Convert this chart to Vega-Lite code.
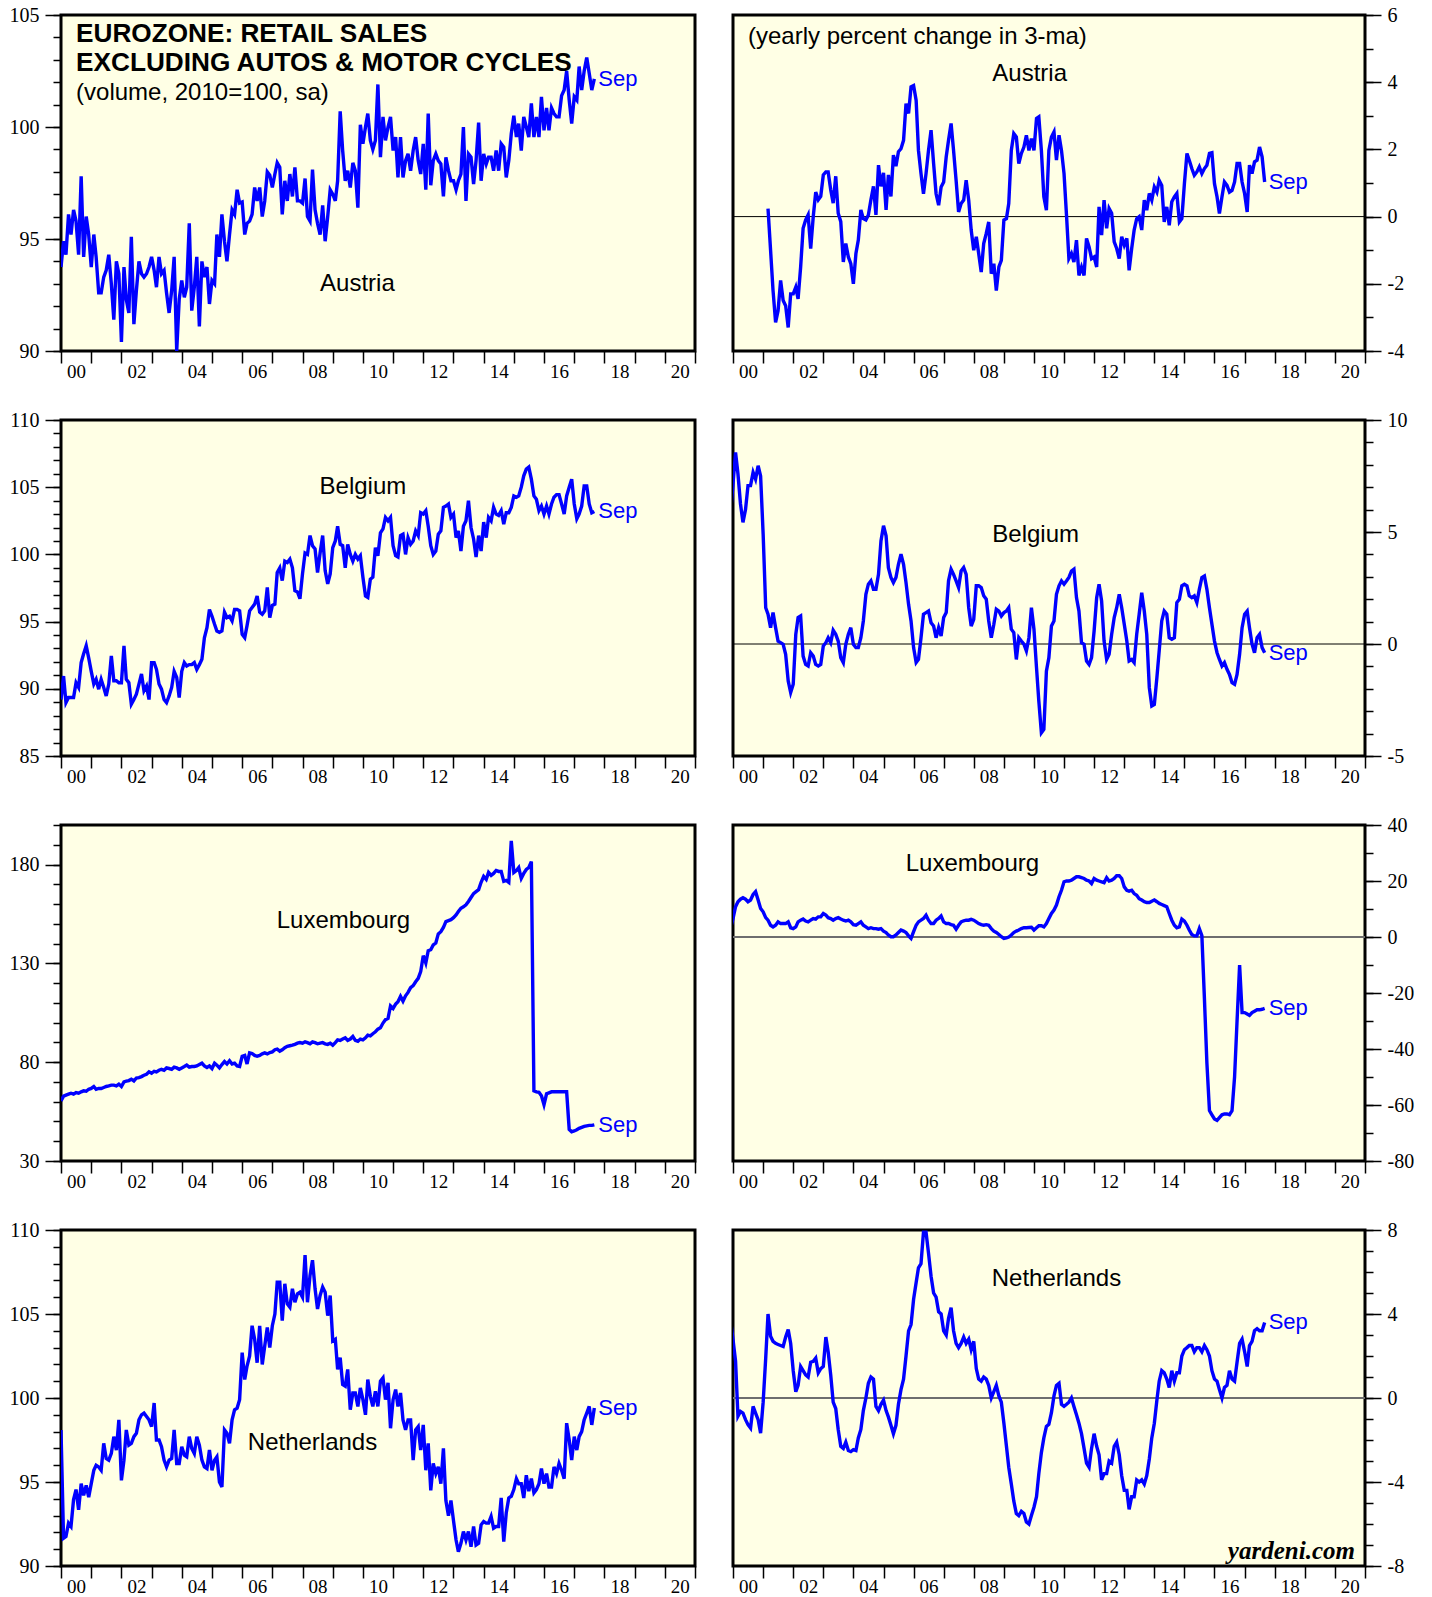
{
"$schema":"https://vega.github.io/schema/vega-lite/v6.json",
"background":"white",
"padding":{"left":7,"top":3,"right":0,"bottom":0},
"data":{"values":[
{"d":"1999-12","br":5.8,"lr":3.0,"nr":3.74},
{"d":"2000-01","a":93.75,"b":89.2,"br":7.14,"l":60.4,"lr":6.6,"n":98.1,"nr":2.79},
{"d":"2000-02","a":94.9,"b":90.95,"br":8.55,"l":62.8,"lr":10.8,"n":91.65,"nr":1.75},
{"d":"2000-03","a":94.3,"b":88.97,"br":7.6,"l":63.3,"lr":12.6,"n":91.75,"nr":-0.87},
{"d":"2000-04","a":96.1,"b":89.35,"br":6.25,"l":63.8,"lr":13.5,"n":92.55,"nr":-0.64},
{"d":"2000-05","a":95.2,"b":89.35,"br":5.43,"l":64.3,"lr":14.0,"n":92.35,"nr":-0.72},
{"d":"2000-06","a":96.3,"b":89.35,"br":6.0,"l":63.8,"lr":13.5,"n":93.95,"nr":-1.03},
{"d":"2000-07","a":95.8,"b":90.45,"br":7.07,"l":64.6,"lr":12.6,"n":94.55,"nr":-1.27},
{"d":"2000-08","a":94.3,"b":90.1,"br":7.07,"l":64.3,"lr":13.2,"n":93.35,"nr":-1.43},
{"d":"2000-09","a":97.8,"b":91.95,"br":7.66,"l":65.0,"lr":15.2,"n":94.9,"nr":-0.4},
{"d":"2000-10","a":94.2,"b":92.6,"br":7.36,"l":65.5,"lr":16.2,"n":94.2,"nr":-0.72},
{"d":"2000-11","a":96.0,"b":93.2,"br":7.96,"l":65.3,"lr":13.2,"n":94.8,"nr":-1.03},
{"d":"2000-12","a":95.2,"b":92.3,"br":7.5,"l":66.3,"lr":10.2,"n":94.1,"nr":-1.67},
{"d":"2001-01","a":93.75,"b":91.3,"br":4.9,"l":66.7,"lr":9.0,"n":94.9,"nr":-0.2},
{"d":"2001-02","a":95.2,"b":90.35,"br":1.62,"l":67.7,"lr":6.9,"n":95.7,"nr":1.9},
{"d":"2001-03","a":94.2,"ar":0.24,"b":90.7,"br":1.33,"l":66.3,"lr":6.0,"n":96.0,"nr":4.0},
{"d":"2001-04","a":92.6,"ar":-1.0,"b":89.97,"br":0.73,"l":66.7,"lr":4.2,"n":95.9,"nr":2.94},
{"d":"2001-05","a":92.6,"ar":-2.2,"b":90.7,"br":1.4,"l":66.7,"lr":3.6,"n":95.7,"nr":2.7},
{"d":"2001-06","a":93.3,"ar":-3.15,"b":90.1,"br":0.73,"l":67.2,"lr":4.2,"n":97.3,"nr":2.6},
{"d":"2001-07","a":93.6,"ar":-2.8,"b":89.47,"br":0.13,"l":67.7,"lr":5.4,"n":96.4,"nr":2.55},
{"d":"2001-08","a":94.3,"ar":-1.9,"b":90.35,"br":0.06,"l":68.0,"lr":4.8,"n":96.3,"nr":2.5},
{"d":"2001-09","a":93.0,"ar":-2.5,"b":92.45,"br":-0.01,"l":68.4,"lr":4.8,"n":96.7,"nr":2.45},
{"d":"2001-10","a":91.4,"ar":-2.65,"b":90.6,"br":-0.46,"l":68.4,"lr":4.8,"n":97.7,"nr":2.9},
{"d":"2001-11","a":94.0,"ar":-3.3,"b":90.6,"br":-1.65,"l":68.0,"lr":5.4,"n":96.9,"nr":3.26},
{"d":"2001-12","a":93.45,"ar":-2.3,"b":90.45,"br":-2.17,"l":68.9,"lr":3.3,"n":98.7,"nr":2.6},
{"d":"2002-01","a":90.4,"ar":-2.3,"b":90.45,"br":-1.8,"l":67.7,"lr":3.0,"n":95.1,"nr":1.3},
{"d":"2002-02","a":93.75,"ar":-2.1,"b":93.2,"br":0.43,"l":70.0,"lr":3.6,"n":96.3,"nr":0.3},
{"d":"2002-03","a":92.3,"ar":-2.45,"b":90.7,"br":1.18,"l":70.4,"lr":5.4,"n":98.1,"nr":0.6},
{"d":"2002-04","a":91.7,"ar":-1.5,"b":90.45,"br":1.25,"l":70.7,"lr":6.0,"n":97.2,"nr":1.5},
{"d":"2002-05","a":95.1,"ar":-0.35,"b":88.85,"br":-0.54,"l":71.4,"lr":6.4,"n":97.3,"nr":1.3},
{"d":"2002-06","a":91.2,"ar":-0.1,"b":89.2,"br":-0.91,"l":70.5,"lr":5.7,"n":97.7,"nr":1.1},
{"d":"2002-07","a":92.7,"ar":0.05,"b":89.6,"br":-0.98,"l":72.0,"lr":5.4,"n":97.9,"nr":1.0},
{"d":"2002-08","a":94.0,"ar":-0.95,"b":90.35,"br":-0.39,"l":72.2,"lr":6.0,"n":98.7,"nr":1.7},
{"d":"2002-09","a":93.45,"ar":0.0,"b":91.1,"br":-0.54,"l":72.7,"lr":6.6,"n":99.0,"nr":1.75},
{"d":"2002-10","a":93.3,"ar":0.73,"b":89.85,"br":-0.91,"l":73.4,"lr":6.4,"n":99.1,"nr":1.9},
{"d":"2002-11","a":93.45,"ar":0.5,"b":90.2,"br":-0.98,"l":73.9,"lr":7.2,"n":98.9,"nr":1.2},
{"d":"2002-12","a":93.75,"ar":0.6,"b":89.2,"br":-0.91,"l":75.1,"lr":7.2,"n":98.7,"nr":1.4},
{"d":"2003-01","a":94.2,"ar":1.24,"b":91.95,"br":-0.09,"l":74.4,"lr":8.4,"n":98.3,"nr":1.5},
{"d":"2003-02","a":93.6,"ar":1.33,"b":91.95,"br":0.06,"l":75.4,"lr":7.8,"n":99.7,"nr":2.9},
{"d":"2003-03","a":92.85,"ar":1.33,"b":91.45,"br":0.28,"l":75.1,"lr":6.9,"n":97.5,"nr":2.2},
{"d":"2003-04","a":94.2,"ar":0.8,"b":90.35,"br":0.06,"l":75.9,"lr":6.6,"n":97.5,"nr":1.1},
{"d":"2003-05","a":93.45,"ar":0.4,"b":89.97,"br":0.61,"l":76.4,"lr":6.0,"n":97.1,"nr":-0.2},
{"d":"2003-06","a":93.6,"ar":1.2,"b":89.2,"br":0.43,"l":75.9,"lr":6.6,"n":96.3,"nr":-0.5},
{"d":"2003-07","a":92.6,"ar":0.1,"b":88.97,"br":0.13,"l":77.1,"lr":6.9,"n":95.9,"nr":-1.5},
{"d":"2003-08","a":91.7,"ar":-0.15,"b":89.47,"br":-0.61,"l":76.8,"lr":6.4,"n":96.3,"nr":-2.3},
{"d":"2003-09","a":92.7,"ar":-1.35,"b":90.1,"br":-0.83,"l":76.4,"lr":6.0,"n":96.4,"nr":-2.4},
{"d":"2003-10","a":94.2,"ar":-0.8,"b":91.3,"br":-0.01,"l":77.5,"lr":5.7,"n":98.1,"nr":-2.1},
{"d":"2003-11","a":90.0,"ar":-1.2,"b":90.85,"br":0.43,"l":77.1,"lr":6.0,"n":96.1,"nr":-2.5},
{"d":"2003-12","a":92.3,"ar":-1.4,"b":89.35,"br":0.73,"l":76.4,"lr":5.4,"n":96.1,"nr":-2.55},
{"d":"2004-01","a":93.15,"ar":-2.0,"b":91.3,"br":-0.01,"l":77.1,"lr":4.4,"n":97.1,"nr":-2.46},
{"d":"2004-02","a":92.4,"ar":-1.1,"b":91.95,"br":-0.16,"l":77.8,"lr":4.2,"n":96.6,"nr":-2.5},
{"d":"2004-03","a":92.85,"ar":-0.7,"b":91.7,"br":-0.16,"l":78.5,"lr":4.8,"n":96.5,"nr":-1.9},
{"d":"2004-04","a":95.7,"ar":0.2,"b":91.8,"br":0.28,"l":77.5,"lr":5.4,"n":97.7,"nr":-1.5},
{"d":"2004-05","a":91.8,"ar":-0.06,"b":91.8,"br":1.03,"l":77.8,"lr":4.2,"n":97.0,"nr":-0.6},
{"d":"2004-06","a":92.85,"ar":-0.1,"b":91.95,"br":2.22,"l":77.8,"lr":3.6,"n":96.7,"nr":0.0},
{"d":"2004-07","a":94.2,"ar":0.05,"b":91.45,"br":2.67,"l":78.1,"lr":3.0,"n":97.7,"nr":0.7},
{"d":"2004-08","a":91.1,"ar":0.5,"b":91.8,"br":2.82,"l":78.8,"lr":3.3,"n":97.2,"nr":1.0},
{"d":"2004-09","a":94.0,"ar":0.9,"b":92.2,"br":2.44,"l":79.5,"lr":3.0,"n":96.3,"nr":0.9},
{"d":"2004-10","a":93.3,"ar":0.05,"b":93.8,"br":2.44,"l":78.1,"lr":3.0,"n":95.9,"nr":-0.4},
{"d":"2004-11","a":93.75,"ar":1.53,"b":94.55,"br":3.11,"l":77.3,"lr":2.8,"n":95.8,"nr":-0.6},
{"d":"2004-12","a":92.1,"ar":0.9,"b":95.9,"br":4.6,"l":78.1,"lr":3.0,"n":96.9,"nr":-0.3},
{"d":"2005-01","a":93.15,"ar":1.3,"b":95.4,"br":5.28,"l":76.8,"lr":2.1,"n":95.7,"nr":-0.1},
{"d":"2005-02","a":93.0,"ar":0.2,"b":94.8,"br":4.83,"l":79.5,"lr":1.6,"n":96.3,"nr":-0.6},
{"d":"2005-03","a":95.2,"ar":1.24,"b":94.3,"br":3.41,"l":78.5,"lr":0.7,"n":96.5,"nr":-0.9},
{"d":"2005-04","a":94.2,"ar":0.6,"b":94.2,"br":2.97,"l":77.1,"lr":0.1,"n":95.0,"nr":-1.3},
{"d":"2005-05","a":96.1,"ar":1.83,"b":94.3,"br":2.74,"l":78.8,"lr":0.1,"n":94.7,"nr":-1.7},
{"d":"2005-06","a":94.9,"ar":1.5,"b":95.7,"br":2.97,"l":80.3,"lr":0.7,"n":98.1,"nr":-1.3},
{"d":"2005-07","a":94.0,"ar":1.93,"b":95.3,"br":3.56,"l":79.1,"lr":1.6,"n":97.9,"nr":-0.3},
{"d":"2005-08","a":95.2,"ar":2.02,"b":95.4,"br":4.01,"l":80.7,"lr":2.5,"n":97.3,"nr":0.4},
{"d":"2005-09","a":96.3,"ar":2.27,"b":95.05,"br":3.56,"l":79.1,"lr":2.1,"n":98.7,"nr":0.9},
{"d":"2005-10","a":96.1,"ar":3.36,"b":95.9,"br":2.74,"l":79.5,"lr":1.6,"n":99.3,"nr":2.0},
{"d":"2005-11","a":97.2,"ar":3.07,"b":95.9,"br":1.77,"l":78.1,"lr":0.4,"n":99.4,"nr":3.2},
{"d":"2005-12","a":96.6,"ar":3.86,"b":95.8,"br":1.03,"l":77.8,"lr":-0.5,"n":99.9,"nr":3.5},
{"d":"2006-01","a":96.65,"ar":3.9,"b":94.05,"br":-0.16,"l":83.0,"lr":1.9,"n":102.7,"nr":4.7},
{"d":"2006-02","a":95.2,"ar":3.46,"b":93.8,"br":-0.83,"l":83.4,"lr":4.2,"n":101.1,"nr":5.5},
{"d":"2006-03","a":95.7,"ar":1.97,"b":94.7,"br":-0.69,"l":79.1,"lr":5.4,"n":101.9,"nr":6.2},
{"d":"2006-04","a":95.8,"ar":1.28,"b":95.8,"br":0.28,"l":84.7,"lr":6.0,"n":102.5,"nr":6.4},
{"d":"2006-05","a":96.1,"ar":0.68,"b":96.05,"br":1.33,"l":84.4,"lr":6.6,"n":104.3,"nr":7.9},
{"d":"2006-06","a":97.3,"ar":1.28,"b":96.3,"br":1.4,"l":83.4,"lr":7.8,"n":103.5,"nr":7.9},
{"d":"2006-07","a":96.7,"ar":1.97,"b":96.9,"br":1.47,"l":83.0,"lr":6.0,"n":102.1,"nr":6.9},
{"d":"2006-08","a":97.3,"ar":2.57,"b":95.7,"br":0.95,"l":83.4,"lr":4.8,"n":104.3,"nr":5.8},
{"d":"2006-09","a":96.0,"ar":1.58,"b":95.55,"br":0.8,"l":84.2,"lr":4.8,"n":102.0,"nr":5.0},
{"d":"2006-10","a":96.7,"ar":0.68,"b":95.8,"br":0.28,"l":84.7,"lr":6.0,"n":103.1,"nr":4.8},
{"d":"2006-11","a":98.0,"ar":0.34,"b":97.55,"br":0.73,"l":84.2,"lr":6.6,"n":104.2,"nr":4.1},
{"d":"2006-12","a":97.85,"ar":0.88,"b":95.3,"br":0.36,"l":84.9,"lr":7.5,"n":103.0,"nr":4.0},
{"d":"2007-01","a":97.3,"ar":1.03,"b":96.2,"br":1.18,"l":85.2,"lr":5.4,"n":104.3,"nr":3.2},
{"d":"2007-02","a":97.9,"ar":1.78,"b":96.3,"br":1.4,"l":86.3,"lr":4.8,"n":105.0,"nr":3.0},
{"d":"2007-03","a":98.4,"ar":2.27,"b":98.65,"br":2.82,"l":86.6,"lr":4.8,"n":106.9,"nr":3.8},
{"d":"2007-04","a":98.2,"ar":2.77,"b":99.0,"br":3.34,"l":85.6,"lr":4.4,"n":106.9,"nr":4.3},
{"d":"2007-05","a":96.1,"ar":1.97,"b":98.05,"br":3.11,"l":86.3,"lr":4.2,"n":104.6,"nr":3.2},
{"d":"2007-06","a":97.6,"ar":1.08,"b":99.5,"br":2.82,"l":87.3,"lr":2.8,"n":106.8,"nr":2.6},
{"d":"2007-07","a":96.7,"ar":0.14,"b":99.4,"br":2.52,"l":88.0,"lr":4.2,"n":105.6,"nr":2.4},
{"d":"2007-08","a":97.9,"ar":0.39,"b":99.65,"br":3.26,"l":88.3,"lr":5.4,"n":105.4,"nr":2.6},
{"d":"2007-09","a":96.9,"ar":0.49,"b":99.0,"br":3.41,"l":88.6,"lr":5.8,"n":106.5,"nr":2.9},
{"d":"2007-10","a":98.2,"ar":1.08,"b":97.3,"br":3.11,"l":89.0,"lr":6.0,"n":105.7,"nr":2.6},
{"d":"2007-11","a":96.7,"ar":0.49,"b":97.2,"br":1.62,"l":89.6,"lr":6.0,"n":106.2,"nr":2.8},
{"d":"2007-12","a":96.7,"ar":-0.4,"b":96.7,"br":0.8,"l":89.9,"lr":6.3,"n":106.3,"nr":2.3},
{"d":"2008-01","a":96.6,"ar":-1.0,"b":98.55,"br":1.1,"l":89.6,"lr":6.0,"n":106.0,"nr":2.7},
{"d":"2008-02","a":97.7,"ar":-0.6,"b":100.1,"br":2.6,"l":90.3,"lr":5.4,"n":108.5,"nr":1.4},
{"d":"2008-03","a":96.0,"ar":-1.1,"b":100.0,"br":2.6,"l":89.9,"lr":4.8,"n":105.7,"nr":0.9},
{"d":"2008-04","a":95.8,"ar":-1.65,"b":101.4,"br":2.52,"l":89.3,"lr":4.4,"n":107.3,"nr":0.8},
{"d":"2008-05","a":98.1,"ar":-0.8,"b":100.65,"br":2.15,"l":90.3,"lr":4.2,"n":108.2,"nr":1.0},
{"d":"2008-06","a":96.3,"ar":-0.5,"b":100.4,"br":2.0,"l":89.9,"lr":4.4,"n":106.5,"nr":0.9},
{"d":"2008-07","a":95.7,"ar":-0.16,"b":98.65,"br":1.03,"l":89.3,"lr":4.2,"n":105.3,"nr":0.6},
{"d":"2008-08","a":95.2,"ar":-1.7,"b":100.1,"br":0.28,"l":89.6,"lr":3.0,"n":106.1,"nr":0.0},
{"d":"2008-09","a":96.5,"ar":-1.4,"b":101.4,"br":0.88,"l":89.9,"lr":2.1,"n":106.6,"nr":0.3},
{"d":"2008-10","a":94.9,"ar":-2.2,"b":98.8,"br":1.55,"l":89.3,"lr":1.6,"n":106.3,"nr":0.6},
{"d":"2008-11","a":96.0,"ar":-1.5,"b":97.8,"br":1.47,"l":89.0,"lr":0.9,"n":104.9,"nr":0.1},
{"d":"2008-12","a":97.2,"ar":-1.3,"b":98.55,"br":1.25,"l":89.6,"lr":0.1,"n":106.1,"nr":-0.2},
{"d":"2009-01","a":97.0,"ar":-0.1,"b":100.5,"br":1.4,"l":88.6,"lr":-0.5,"n":103.4,"nr":-1.2},
{"d":"2009-02","a":96.7,"ar":-0.06,"b":101.0,"br":1.47,"l":89.9,"lr":-0.3,"n":103.5,"nr":-2.3},
{"d":"2009-03","a":97.6,"ar":0.39,"b":102.1,"br":1.62,"l":91.3,"lr":0.0,"n":101.7,"nr":-3.3},
{"d":"2009-04","a":100.7,"ar":1.97,"b":100.75,"br":0.66,"l":91.0,"lr":0.7,"n":102.4,"nr":-4.1},
{"d":"2009-05","a":98.95,"ar":2.47,"b":100.65,"br":0.51,"l":91.7,"lr":1.6,"n":100.8,"nr":-4.9},
{"d":"2009-06","a":97.6,"ar":2.37,"b":99.0,"br":-0.69,"l":92.3,"lr":2.1,"n":100.7,"nr":-5.5},
{"d":"2009-07","a":98.05,"ar":1.58,"b":100.75,"br":0.28,"l":91.0,"lr":2.5,"n":101.7,"nr":-5.6},
{"d":"2009-08","a":97.3,"ar":1.88,"b":100.0,"br":0.13,"l":91.7,"lr":3.0,"n":99.3,"nr":-5.4},
{"d":"2009-09","a":98.4,"ar":2.07,"b":99.5,"br":-0.01,"l":93.0,"lr":3.3,"n":100.3,"nr":-5.5},
{"d":"2009-10","a":98.05,"ar":2.42,"b":100.0,"br":-0.31,"l":91.0,"lr":3.3,"n":100.3,"nr":-5.9},
{"d":"2009-11","a":96.4,"ar":1.97,"b":99.65,"br":0.28,"l":90.6,"lr":3.4,"n":99.5,"nr":-6.0},
{"d":"2009-12","a":100.1,"ar":2.32,"b":99.9,"br":1.62,"l":91.7,"lr":3.5,"n":100.6,"nr":-5.6},
{"d":"2010-01","a":99.25,"ar":1.97,"b":98.3,"br":0.66,"l":91.3,"lr":2.5,"n":99.9,"nr":-5.2},
{"d":"2010-02","a":100.0,"ar":2.92,"b":96.9,"br":-1.06,"l":92.3,"lr":3.3,"n":99.0,"nr":-4.7},
{"d":"2010-03","a":100.6,"ar":2.97,"b":96.8,"br":-2.55,"l":93.7,"lr":4.0,"n":101.1,"nr":-3.6},
{"d":"2010-04","a":99.4,"ar":1.97,"b":98.15,"br":-3.96,"l":93.3,"lr":4.0,"n":100.1,"nr":-2.6},
{"d":"2010-05","a":99.0,"ar":0.59,"b":98.3,"br":-3.81,"l":94.4,"lr":3.6,"n":99.5,"nr":-1.9},
{"d":"2010-06","a":99.4,"ar":0.19,"b":100.5,"br":-1.21,"l":95.4,"lr":4.8,"n":100.4,"nr":-1.35},
{"d":"2010-07","a":101.9,"ar":1.97,"b":99.9,"br":-0.61,"l":96.7,"lr":6.6,"n":99.5,"nr":-1.25},
{"d":"2010-08","a":98.65,"ar":2.37,"b":101.6,"br":0.8,"l":97.4,"lr":8.4,"n":101.0,"nr":-0.7},
{"d":"2010-09","a":100.45,"ar":2.52,"b":101.9,"br":1.03,"l":99.8,"lr":9.6,"n":101.2,"nr":0.1},
{"d":"2010-10","a":99.4,"ar":1.68,"b":102.75,"br":2.22,"l":101.5,"lr":11.4,"n":99.9,"nr":0.6},
{"d":"2010-11","a":100.0,"ar":2.42,"b":102.5,"br":2.6,"l":102.2,"lr":14.4,"n":100.9,"nr":0.7},
{"d":"2010-12","a":100.45,"ar":1.97,"b":102.75,"br":2.82,"l":108.5,"lr":16.7,"n":98.2,"nr":-0.3},
{"d":"2011-01","a":98.95,"ar":1.28,"b":100.65,"br":2.67,"l":107.2,"lr":19.7,"n":99.9,"nr":-0.4},
{"d":"2011-02","a":99.55,"ar":0.0,"b":99.9,"br":2.82,"l":109.4,"lr":20.0,"n":100.5,"nr":-0.3},
{"d":"2011-03","a":97.75,"ar":-1.25,"b":99.8,"br":2.97,"l":110.6,"lr":20.0,"n":99.5,"nr":-0.2},
{"d":"2011-04","a":99.55,"ar":-1.1,"b":101.4,"br":3.26,"l":113.3,"lr":20.3,"n":100.3,"nr":0.0},
{"d":"2011-05","a":97.75,"ar":-1.35,"b":101.5,"br":3.34,"l":110.9,"lr":20.9,"n":98.7,"nr":-0.4},
{"d":"2011-06","a":98.5,"ar":-0.7,"b":100.0,"br":2.07,"l":113.6,"lr":21.5,"n":98.1,"nr":-0.8},
{"d":"2011-07","a":98.8,"ar":-1.75,"b":101.25,"br":1.47,"l":115.3,"lr":21.5,"n":98.7,"nr":-1.2},
{"d":"2011-08","a":98.05,"ar":-1.5,"b":100.75,"br":0.06,"l":117.7,"lr":21.2,"n":98.7,"nr":-1.7},
{"d":"2011-09","a":98.95,"ar":-1.75,"b":101.0,"br":-0.01,"l":118.7,"lr":20.9,"n":96.3,"nr":-2.4},
{"d":"2011-10","a":99.55,"ar":-0.65,"b":101.75,"br":-0.76,"l":120.7,"lr":20.3,"n":98.1,"nr":-3.1},
{"d":"2011-11","a":98.5,"ar":-0.9,"b":101.4,"br":-0.91,"l":122.4,"lr":20.0,"n":98.3,"nr":-3.3},
{"d":"2011-12","a":97.9,"ar":-1.25,"b":103.1,"br":-0.61,"l":125.8,"lr":19.1,"n":96.9,"nr":-2.4},
{"d":"2012-01","a":99.25,"ar":-1.2,"b":103.0,"br":0.58,"l":133.9,"lr":20.9,"n":98.4,"nr":-1.7},
{"d":"2012-02","a":97.2,"ar":-1.5,"b":103.25,"br":2.07,"l":130.2,"lr":20.3,"n":95.7,"nr":-2.3},
{"d":"2012-03","a":100.6,"ar":0.29,"b":102.1,"br":2.67,"l":136.4,"lr":20.0,"n":97.3,"nr":-2.7},
{"d":"2012-04","a":97.4,"ar":-0.55,"b":100.65,"br":1.92,"l":136.9,"lr":19.7,"n":94.5,"nr":-3.9},
{"d":"2012-05","a":98.5,"ar":0.49,"b":100.0,"br":0.13,"l":139.3,"lr":19.4,"n":96.1,"nr":-3.6},
{"d":"2012-06","a":98.8,"ar":-0.35,"b":100.25,"br":-0.69,"l":140.3,"lr":21.2,"n":95.5,"nr":-3.6},
{"d":"2012-07","a":98.5,"ar":0.24,"b":101.5,"br":-0.46,"l":144.9,"lr":20.0,"n":95.9,"nr":-3.0},
{"d":"2012-08","a":98.35,"ar":0.1,"b":101.75,"br":0.43,"l":146.0,"lr":20.3,"n":94.9,"nr":-3.1},
{"d":"2012-09","a":96.9,"ar":-0.75,"b":103.5,"br":1.18,"l":148.2,"lr":20.9,"n":97.0,"nr":-2.3},
{"d":"2012-10","a":98.65,"ar":-0.95,"b":103.6,"br":1.62,"l":151.1,"lr":21.9,"n":93.9,"nr":-2.1},
{"d":"2012-11","a":98.05,"ar":-1.25,"b":103.75,"br":2.22,"l":151.6,"lr":21.9,"n":93.0,"nr":-2.7},
{"d":"2012-12","a":97.6,"ar":-0.6,"b":102.75,"br":1.62,"l":152.1,"lr":20.9,"n":93.9,"nr":-3.7},
{"d":"2013-01","a":97.6,"ar":-0.85,"b":103.0,"br":0.88,"l":153.1,"lr":17.9,"n":92.7,"nr":-4.4},
{"d":"2013-02","a":97.2,"ar":-0.65,"b":101.25,"br":0.13,"l":154.5,"lr":16.7,"n":91.55,"nr":-4.4},
{"d":"2013-03","a":97.6,"ar":-1.6,"b":101.75,"br":-0.76,"l":156.2,"lr":16.4,"n":90.85,"nr":-5.3},
{"d":"2013-04","a":97.9,"ar":-0.95,"b":100.25,"br":-0.69,"l":157.9,"lr":16.7,"n":91.35,"nr":-4.7},
{"d":"2013-05","a":100.0,"ar":-0.4,"b":102.1,"br":-0.83,"l":158.6,"lr":15.5,"n":92.05,"nr":-4.7},
{"d":"2013-06","a":96.7,"ar":-0.06,"b":102.5,"br":0.43,"l":159.6,"lr":14.9,"n":91.55,"nr":-3.9},
{"d":"2013-07","a":98.8,"ar":0.0,"b":104.0,"br":1.33,"l":161.3,"lr":13.7,"n":92.05,"nr":-4.0},
{"d":"2013-08","a":98.65,"ar":-0.4,"b":102.0,"br":2.29,"l":163.3,"lr":13.2,"n":91.15,"nr":-3.9},
{"d":"2013-09","a":97.45,"ar":0.49,"b":101.15,"br":1.47,"l":165.3,"lr":12.6,"n":92.35,"nr":-4.1},
{"d":"2013-10","a":98.5,"ar":0.19,"b":99.8,"br":0.43,"l":166.3,"lr":12.3,"n":91.25,"nr":-3.7},
{"d":"2013-11","a":100.2,"ar":0.69,"b":101.4,"br":-1.95,"l":167.3,"lr":12.3,"n":91.35,"nr":-2.9},
{"d":"2013-12","a":97.6,"ar":0.49,"b":100.25,"br":-2.77,"l":171.0,"lr":12.8,"n":92.45,"nr":-1.9},
{"d":"2014-01","a":98.8,"ar":0.88,"b":102.4,"br":-2.7,"l":174.0,"lr":13.2,"n":92.65,"nr":-1.2},
{"d":"2014-02","a":98.35,"ar":0.73,"b":101.25,"br":-1.5,"l":172.5,"lr":12.6,"n":92.55,"nr":-0.1},
{"d":"2014-03","a":98.65,"ar":1.08,"b":102.75,"br":-0.31,"l":176.0,"lr":12.0,"n":92.55,"nr":0.8},
{"d":"2014-04","a":98.65,"ar":0.93,"b":102.5,"br":1.03,"l":174.5,"lr":11.6,"n":92.95,"nr":1.3},
{"d":"2014-05","a":98.05,"ar":-0.16,"b":103.5,"br":1.47,"l":175.5,"lr":11.2,"n":92.25,"nr":1.2},
{"d":"2014-06","a":98.95,"ar":0.29,"b":103.0,"br":1.33,"l":177.0,"lr":10.8,"n":92.35,"nr":0.9},
{"d":"2014-07","a":98.05,"ar":-0.26,"b":102.9,"br":0.28,"l":176.5,"lr":8.4,"n":92.35,"nr":0.5},
{"d":"2014-08","a":99.25,"ar":0.44,"b":103.25,"br":0.21,"l":176.5,"lr":6.0,"n":94.05,"nr":1.3},
{"d":"2014-09","a":99.1,"ar":0.59,"b":102.25,"br":0.28,"l":171.5,"lr":4.2,"n":91.45,"nr":0.8},
{"d":"2014-10","a":97.75,"ar":0.69,"b":103.1,"br":1.85,"l":172.0,"lr":3.3,"n":93.15,"nr":1.2},
{"d":"2014-11","a":98.5,"ar":-0.16,"b":103.1,"br":2.0,"l":171.0,"lr":3.6,"n":94.05,"nr":1.2},
{"d":"2014-12","a":99.7,"ar":-0.06,"b":103.5,"br":2.6,"l":192.0,"lr":6.4,"n":94.15,"nr":2.0},
{"d":"2015-01","a":100.5,"ar":0.98,"b":104.35,"br":2.67,"l":176.0,"lr":5.7,"n":94.55,"nr":2.3},
{"d":"2015-02","a":99.55,"ar":1.88,"b":104.25,"br":2.6,"l":177.0,"lr":4.2,"n":95.2,"nr":2.4},
{"d":"2015-03","a":100.15,"ar":1.68,"b":104.35,"br":2.15,"l":178.5,"lr":2.5,"n":94.9,"nr":2.5},
{"d":"2015-04","a":98.95,"ar":1.43,"b":105.0,"br":2.07,"l":173.0,"lr":0.9,"n":94.9,"nr":2.5},
{"d":"2015-05","a":100.45,"ar":1.23,"b":105.85,"br":2.15,"l":175.5,"lr":0.4,"n":94.05,"nr":2.2},
{"d":"2015-06","a":100.0,"ar":1.33,"b":106.35,"br":1.85,"l":177.5,"lr":0.4,"n":95.4,"nr":2.4},
{"d":"2015-07","a":99.55,"ar":1.48,"b":106.5,"br":2.44,"l":178.5,"lr":3.0,"n":94.45,"nr":2.4},
{"d":"2015-08","a":101.05,"ar":1.28,"b":105.6,"br":2.97,"l":181.5,"lr":0.5,"n":95.2,"nr":2.2},
{"d":"2015-09","a":99.55,"ar":1.43,"b":104.35,"br":3.04,"l":65.5,"lr":-22,"n":94.35,"nr":2.5},
{"d":"2015-10","a":100.45,"ar":1.53,"b":104.1,"br":2.44,"l":65.0,"lr":-45,"n":94.55,"nr":2.3},
{"d":"2015-11","a":99.55,"ar":1.88,"b":103.25,"br":1.62,"l":64.8,"lr":-62,"n":94.9,"nr":2.0},
{"d":"2015-12","a":101.35,"ar":1.9,"b":103.6,"br":0.88,"l":63.0,"lr":-63.5,"n":95.8,"nr":1.3},
{"d":"2016-01","a":99.85,"ar":0.98,"b":103.0,"br":0.13,"l":58.5,"lr":-65,"n":94.9,"nr":0.9},
{"d":"2016-02","a":100.85,"ar":0.59,"b":103.6,"br":-0.39,"l":64.0,"lr":-65.5,"n":95.5,"nr":0.8},
{"d":"2016-03","a":99.85,"ar":0.09,"b":103.0,"br":-0.69,"l":64.5,"lr":-64.5,"n":94.7,"nr":0.4},
{"d":"2016-04","a":100.85,"ar":0.59,"b":103.75,"br":-0.98,"l":65.0,"lr":-63.5,"n":94.7,"nr":0.0},
{"d":"2016-05","a":100.6,"ar":1.03,"b":104.25,"br":-0.83,"l":65.0,"lr":-63.2,"n":95.9,"nr":0.5},
{"d":"2016-06","a":100.45,"ar":0.93,"b":104.45,"br":-1.13,"l":65.0,"lr":-63.2,"n":95.5,"nr":0.6},
{"d":"2016-07","a":100.45,"ar":0.73,"b":104.45,"br":-1.36,"l":65.0,"lr":-63.5,"n":96.1,"nr":1.3},
{"d":"2016-08","a":101.4,"ar":0.78,"b":103.75,"br":-1.73,"l":65.0,"lr":-62,"n":95.7,"nr":0.9},
{"d":"2016-09","a":101.65,"ar":1.03,"b":103.0,"br":-1.8,"l":65.0,"lr":-50,"n":95.2,"nr":0.8},
{"d":"2016-10","a":102.5,"ar":1.58,"b":104.35,"br":-1.36,"l":65.0,"lr":-30,"n":98.5,"nr":1.7},
{"d":"2016-11","a":101.2,"ar":1.58,"b":105.0,"br":-0.46,"l":46.0,"lr":-10,"n":97.5,"nr":2.6},
{"d":"2016-12","a":100.15,"ar":1.03,"b":105.6,"br":0.73,"l":44.8,"lr":-27,"n":96.3,"nr":2.8},
{"d":"2017-01","a":101.35,"ar":0.68,"b":103.75,"br":1.33,"l":45.2,"lr":-27,"n":97.7,"nr":2.2},
{"d":"2017-02","a":101.2,"ar":0.14,"b":102.65,"br":1.47,"l":45.8,"lr":-27.5,"n":96.9,"nr":1.5},
{"d":"2017-03","a":102.7,"ar":1.53,"b":103.0,"br":0.73,"l":46.5,"lr":-28,"n":97.7,"nr":2.5},
{"d":"2017-04","a":101.65,"ar":1.28,"b":103.6,"br":-0.01,"l":47.0,"lr":-27,"n":98.0,"nr":2.7},
{"d":"2017-05","a":102.5,"ar":1.63,"b":105.1,"br":-0.39,"l":47.5,"lr":-26.5,"n":98.7,"nr":3.2},
{"d":"2017-06","a":103.1,"ar":1.68,"b":105.1,"br":0.28,"l":47.8,"lr":-26,"n":99.1,"nr":3.3},
{"d":"2017-07","a":102.4,"ar":2.07,"b":103.75,"br":0.43,"l":48.0,"lr":-26,"n":99.5,"nr":3.2},
{"d":"2017-08","a":101.65,"ar":1.78,"b":103.1,"br":-0.16,"l":48.0,"lr":-25.8,"n":98.4,"nr":3.2},
{"d":"2017-09","a":102.15,"ar":1.03,"b":103.2,"br":-0.39,"l":48.3,"lr":-25.5,"n":99.4,"nr":3.6}
]},
"columns":2,
"spacing":{"row":69,"column":38},
"bounds":"flush",
"concat":[
{"width":634,"height":336,"resolve":{"axis":{"y":"independent"}},
"layer":[
{"mark":{"type":"line","color":"#0000ff","strokeWidth":3.4,"clip":true},
"encoding":{
"x":{"field":"d","type":"temporal","title":null,"scale":{"type":"utc","domain":[{"year":2000,"month":1,"date":1,"utc":true},{"year":2021,"month":1,"date":1,"utc":true}]},"axis":{"tickCount":{"interval":"year","step":1},"labelOverlap":false,"labelExpr":"utcyear(datum.value) % 2 == 0 ? utcFormat(datum.value, '%y') : ''"}},
"y":{"field":"a","type":"quantitative","title":null,"scale":{"domain":[90,105],"nice":false,"zero":false},"axis":{"orient":"left","labelOverlap":false,"values":[90,95,100,105],"labelExpr":"'' + datum.value","tickSize":16}}}},
{"transform":[{"filter":"utcyear(datum.d) == 2017 && utcmonth(datum.d) == 8"}],"mark":{"type":"text","align":"left","baseline":"middle","dx":4,"fontSize":22,"color":"#0000ff"},"encoding":{"x":{"field":"d","type":"temporal"},"y":{"field":"a","type":"quantitative","title":null,"axis":{"orient":"left","values":[90,91,92,93,94,95,96,97,98,99,100,101,102,103,104,105],"labels":false,"tickSize":8}},"text":{"value":"Sep"}}},
{"data":{"values":[{"t":"Austria"}]},"mark":{"type":"text","fontSize":24,"baseline":"middle"},"encoding":{"x":{"datum":{"year":2009,"month":10,"date":26,"utc":true},"type":"temporal"},"y":{"datum":93.0,"axis":null},"text":{"field":"t"}}},
{"data":{"values":[{"t":"EUROZONE: RETAIL SALES"}]},"mark":{"type":"text","fontSize":26.2,"fontWeight":"bold","align":"left","baseline":"middle"},"encoding":{"x":{"datum":{"year":2000,"month":7,"date":1,"utc":true},"type":"temporal"},"y":{"datum":104.15,"axis":null},"text":{"field":"t"}}},
{"data":{"values":[{"t":"EXCLUDING AUTOS & MOTOR CYCLES"}]},"mark":{"type":"text","fontSize":26.2,"fontWeight":"bold","align":"left","baseline":"middle"},"encoding":{"x":{"datum":{"year":2000,"month":7,"date":1,"utc":true},"type":"temporal"},"y":{"datum":102.87,"axis":null},"text":{"field":"t"}}},
{"data":{"values":[{"t":"(volume, 2010=100, sa)"}]},"mark":{"type":"text","fontSize":24,"align":"left","baseline":"middle"},"encoding":{"x":{"datum":{"year":2000,"month":7,"date":1,"utc":true},"type":"temporal"},"y":{"datum":101.5,"axis":null},"text":{"field":"t"}}}
]},
{"width":632,"height":336,"resolve":{"axis":{"y":"independent"}},
"layer":[
{"data":{"values":[{}]},"mark":{"type":"rule","color":"#000000","strokeWidth":1},"encoding":{"y":{"datum":0,"axis":null}}},
{"mark":{"type":"line","color":"#0000ff","strokeWidth":3.4,"clip":true},
"encoding":{
"x":{"field":"d","type":"temporal","title":null,"scale":{"type":"utc","domain":[{"year":2000,"month":1,"date":1,"utc":true},{"year":2021,"month":1,"date":1,"utc":true}]},"axis":{"tickCount":{"interval":"year","step":1},"labelOverlap":false,"labelExpr":"utcyear(datum.value) % 2 == 0 ? utcFormat(datum.value, '%y') : ''"}},
"y":{"field":"ar","type":"quantitative","title":null,"scale":{"domain":[-4,6],"nice":false,"zero":false},"axis":{"orient":"right","labelOverlap":false,"values":[-4,-2,0,2,4,6],"labelExpr":"'' + datum.value","tickSize":16}}}},
{"transform":[{"filter":"utcyear(datum.d) == 2017 && utcmonth(datum.d) == 8"}],"mark":{"type":"text","align":"left","baseline":"middle","dx":4,"fontSize":22,"color":"#0000ff"},"encoding":{"x":{"field":"d","type":"temporal"},"y":{"field":"ar","type":"quantitative","title":null,"axis":{"orient":"right","values":[-4,-3,-2,-1,0,1,2,3,4,5,6],"labels":false,"tickSize":8}},"text":{"value":"Sep"}}},
{"data":{"values":[{"t":"Austria"}]},"mark":{"type":"text","fontSize":24,"baseline":"middle"},"encoding":{"x":{"datum":{"year":2009,"month":11,"date":10,"utc":true},"type":"temporal"},"y":{"datum":4.24,"axis":null},"text":{"field":"t"}}},
{"data":{"values":[{"t":"(yearly percent change in 3-ma)"}]},"mark":{"type":"text","fontSize":24,"align":"left","baseline":"middle"},"encoding":{"x":{"datum":{"year":2000,"month":7,"date":1,"utc":true},"type":"temporal"},"y":{"datum":5.36,"axis":null},"text":{"field":"t"}}}
]},
{"width":634,"height":336,"resolve":{"axis":{"y":"independent"}},
"layer":[
{"mark":{"type":"line","color":"#0000ff","strokeWidth":3.4,"clip":true},
"encoding":{
"x":{"field":"d","type":"temporal","title":null,"scale":{"type":"utc","domain":[{"year":2000,"month":1,"date":1,"utc":true},{"year":2021,"month":1,"date":1,"utc":true}]},"axis":{"tickCount":{"interval":"year","step":1},"labelOverlap":false,"labelExpr":"utcyear(datum.value) % 2 == 0 ? utcFormat(datum.value, '%y') : ''"}},
"y":{"field":"b","type":"quantitative","title":null,"scale":{"domain":[85,110],"nice":false,"zero":false},"axis":{"orient":"left","labelOverlap":false,"values":[85,90,95,100,105,110],"labelExpr":"'' + datum.value","tickSize":16}}}},
{"transform":[{"filter":"utcyear(datum.d) == 2017 && utcmonth(datum.d) == 8"}],"mark":{"type":"text","align":"left","baseline":"middle","dx":4,"fontSize":22,"color":"#0000ff"},"encoding":{"x":{"field":"d","type":"temporal"},"y":{"field":"b","type":"quantitative","title":null,"axis":{"orient":"left","values":[85,86,87,88,89,90,91,92,93,94,95,96,97,98,99,100,101,102,103,104,105,106,107,108,109,110],"labels":false,"tickSize":8}},"text":{"value":"Sep"}}},
{"data":{"values":[{"t":"Belgium"}]},"mark":{"type":"text","fontSize":24,"baseline":"middle"},"encoding":{"x":{"datum":{"year":2010,"month":1,"date":1,"utc":true},"type":"temporal"},"y":{"datum":105.0,"axis":null},"text":{"field":"t"}}}
]},
{"width":632,"height":336,"resolve":{"axis":{"y":"independent"}},
"layer":[
{"data":{"values":[{}]},"mark":{"type":"rule","color":"#000000","strokeWidth":1},"encoding":{"y":{"datum":0,"axis":null}}},
{"mark":{"type":"line","color":"#0000ff","strokeWidth":3.4,"clip":true},
"encoding":{
"x":{"field":"d","type":"temporal","title":null,"scale":{"type":"utc","domain":[{"year":2000,"month":1,"date":1,"utc":true},{"year":2021,"month":1,"date":1,"utc":true}]},"axis":{"tickCount":{"interval":"year","step":1},"labelOverlap":false,"labelExpr":"utcyear(datum.value) % 2 == 0 ? utcFormat(datum.value, '%y') : ''"}},
"y":{"field":"br","type":"quantitative","title":null,"scale":{"domain":[-5,10],"nice":false,"zero":false},"axis":{"orient":"right","labelOverlap":false,"values":[-5,0,5,10],"labelExpr":"'' + datum.value","tickSize":16}}}},
{"transform":[{"filter":"utcyear(datum.d) == 2017 && utcmonth(datum.d) == 8"}],"mark":{"type":"text","align":"left","baseline":"middle","dx":4,"fontSize":22,"color":"#0000ff"},"encoding":{"x":{"field":"d","type":"temporal"},"y":{"field":"br","type":"quantitative","title":null,"axis":{"orient":"right","values":[-5,-4,-3,-2,-1,0,1,2,3,4,5,6,7,8,9,10],"labels":false,"tickSize":8}},"text":{"value":"Sep"}}},
{"data":{"values":[{"t":"Belgium"}]},"mark":{"type":"text","fontSize":24,"baseline":"middle"},"encoding":{"x":{"datum":{"year":2010,"month":1,"date":22,"utc":true},"type":"temporal"},"y":{"datum":4.88,"axis":null},"text":{"field":"t"}}}
]},
{"width":634,"height":336,"resolve":{"axis":{"y":"independent"}},
"layer":[
{"mark":{"type":"line","color":"#0000ff","strokeWidth":3.4,"clip":true},
"encoding":{
"x":{"field":"d","type":"temporal","title":null,"scale":{"type":"utc","domain":[{"year":2000,"month":1,"date":1,"utc":true},{"year":2021,"month":1,"date":1,"utc":true}]},"axis":{"tickCount":{"interval":"year","step":1},"labelOverlap":false,"labelExpr":"utcyear(datum.value) % 2 == 0 ? utcFormat(datum.value, '%y') : ''"}},
"y":{"field":"l","type":"quantitative","title":null,"scale":{"domain":[30,200],"nice":false,"zero":false},"axis":{"orient":"left","labelOverlap":false,"values":[30,80,130,180],"labelExpr":"'' + datum.value","tickSize":16}}}},
{"transform":[{"filter":"utcyear(datum.d) == 2017 && utcmonth(datum.d) == 8"}],"mark":{"type":"text","align":"left","baseline":"middle","dx":4,"fontSize":22,"color":"#0000ff"},"encoding":{"x":{"field":"d","type":"temporal"},"y":{"field":"l","type":"quantitative","title":null,"axis":{"orient":"left","values":[30,40,50,60,70,80,90,100,110,120,130,140,150,160,170,180,190,200],"labels":false,"tickSize":8}},"text":{"value":"Sep"}}},
{"data":{"values":[{"t":"Luxembourg"}]},"mark":{"type":"text","fontSize":24,"baseline":"middle"},"encoding":{"x":{"datum":{"year":2009,"month":5,"date":10,"utc":true},"type":"temporal"},"y":{"datum":151.6,"axis":null},"text":{"field":"t"}}}
]},
{"width":632,"height":336,"resolve":{"axis":{"y":"independent"}},
"layer":[
{"data":{"values":[{}]},"mark":{"type":"rule","color":"#6e6e6e","strokeWidth":2},"encoding":{"y":{"datum":0,"axis":null}}},
{"mark":{"type":"line","color":"#0000ff","strokeWidth":3.4,"clip":true},
"encoding":{
"x":{"field":"d","type":"temporal","title":null,"scale":{"type":"utc","domain":[{"year":2000,"month":1,"date":1,"utc":true},{"year":2021,"month":1,"date":1,"utc":true}]},"axis":{"tickCount":{"interval":"year","step":1},"labelOverlap":false,"labelExpr":"utcyear(datum.value) % 2 == 0 ? utcFormat(datum.value, '%y') : ''"}},
"y":{"field":"lr","type":"quantitative","title":null,"scale":{"domain":[-80,40],"nice":false,"zero":false},"axis":{"orient":"right","labelOverlap":false,"values":[-80,-60,-40,-20,0,20,40],"labelExpr":"'' + datum.value","tickSize":16}}}},
{"transform":[{"filter":"utcyear(datum.d) == 2017 && utcmonth(datum.d) == 8"}],"mark":{"type":"text","align":"left","baseline":"middle","dx":4,"fontSize":22,"color":"#0000ff"},"encoding":{"x":{"field":"d","type":"temporal"},"y":{"field":"lr","type":"quantitative","title":null,"axis":{"orient":"right","values":[-80,-70,-60,-50,-40,-30,-20,-10,0,10,20,30,40],"labels":false,"tickSize":8}},"text":{"value":"Sep"}}},
{"data":{"values":[{"t":"Luxembourg"}]},"mark":{"type":"text","fontSize":24,"baseline":"middle"},"encoding":{"x":{"datum":{"year":2007,"month":12,"date":16,"utc":true},"type":"temporal"},"y":{"datum":26.2,"axis":null},"text":{"field":"t"}}}
]},
{"width":634,"height":336,"resolve":{"axis":{"y":"independent"}},
"layer":[
{"mark":{"type":"line","color":"#0000ff","strokeWidth":3.4,"clip":true},
"encoding":{
"x":{"field":"d","type":"temporal","title":null,"scale":{"type":"utc","domain":[{"year":2000,"month":1,"date":1,"utc":true},{"year":2021,"month":1,"date":1,"utc":true}]},"axis":{"tickCount":{"interval":"year","step":1},"labelOverlap":false,"labelExpr":"utcyear(datum.value) % 2 == 0 ? utcFormat(datum.value, '%y') : ''"}},
"y":{"field":"n","type":"quantitative","title":null,"scale":{"domain":[90,110],"nice":false,"zero":false},"axis":{"orient":"left","labelOverlap":false,"values":[90,95,100,105,110],"labelExpr":"'' + datum.value","tickSize":16}}}},
{"transform":[{"filter":"utcyear(datum.d) == 2017 && utcmonth(datum.d) == 8"}],"mark":{"type":"text","align":"left","baseline":"middle","dx":4,"fontSize":22,"color":"#0000ff"},"encoding":{"x":{"field":"d","type":"temporal"},"y":{"field":"n","type":"quantitative","title":null,"axis":{"orient":"left","values":[90,91,92,93,94,95,96,97,98,99,100,101,102,103,104,105,106,107,108,109,110],"labels":false,"tickSize":8}},"text":{"value":"Sep"}}},
{"data":{"values":[{"t":"Netherlands"}]},"mark":{"type":"text","fontSize":24,"baseline":"middle"},"encoding":{"x":{"datum":{"year":2008,"month":5,"date":1,"utc":true},"type":"temporal"},"y":{"datum":97.3,"axis":null},"text":{"field":"t"}}}
]},
{"width":632,"height":336,"resolve":{"axis":{"y":"independent"}},
"layer":[
{"data":{"values":[{}]},"mark":{"type":"rule","color":"#6e6e6e","strokeWidth":2},"encoding":{"y":{"datum":0,"axis":null}}},
{"mark":{"type":"line","color":"#0000ff","strokeWidth":3.4,"clip":true},
"encoding":{
"x":{"field":"d","type":"temporal","title":null,"scale":{"type":"utc","domain":[{"year":2000,"month":1,"date":1,"utc":true},{"year":2021,"month":1,"date":1,"utc":true}]},"axis":{"tickCount":{"interval":"year","step":1},"labelOverlap":false,"labelExpr":"utcyear(datum.value) % 2 == 0 ? utcFormat(datum.value, '%y') : ''"}},
"y":{"field":"nr","type":"quantitative","title":null,"scale":{"domain":[-8,8],"nice":false,"zero":false},"axis":{"orient":"right","labelOverlap":false,"values":[-8,-4,0,4,8],"labelExpr":"'' + datum.value","tickSize":16}}}},
{"transform":[{"filter":"utcyear(datum.d) == 2017 && utcmonth(datum.d) == 8"}],"mark":{"type":"text","align":"left","baseline":"middle","dx":4,"fontSize":22,"color":"#0000ff"},"encoding":{"x":{"field":"d","type":"temporal"},"y":{"field":"nr","type":"quantitative","title":null,"axis":{"orient":"right","values":[-8,-7,-6,-5,-4,-3,-2,-1,0,1,2,3,4,5,6,7,8],"labels":false,"tickSize":8}},"text":{"value":"Sep"}}},
{"data":{"values":[{"t":"Netherlands"}]},"mark":{"type":"text","fontSize":24,"baseline":"middle"},"encoding":{"x":{"datum":{"year":2010,"month":10,"date":1,"utc":true},"type":"temporal"},"y":{"datum":5.69,"axis":null},"text":{"field":"t"}}},
{"data":{"values":[{"t":"yardeni.com"}]},"mark":{"type":"text","fontSize":25,"font":"Liberation Serif","fontStyle":"italic","fontWeight":"bold","align":"right","baseline":"middle"},"encoding":{"x":{"datum":{"year":2020,"month":9,"date":1,"utc":true},"type":"temporal"},"y":{"datum":-7.3,"axis":null},"text":{"field":"t"}}}
]}
],
"config":{
"view":{"stroke":"#000000","strokeWidth":3,"fill":"#FFFFE5"},
"font":"Liberation Sans",
"text":{"font":"Liberation Sans","color":"#000000"},
"axis":{"domain":false,"grid":false,"labelFont":"Liberation Serif","labelFontSize":20,"labelColor":"#000000","tickColor":"#000000","tickWidth":1.5,"labelOverlap":false,"labelFlush":false},
"axisX":{"tickSize":12,"labelOffset":15,"labelPadding":-1,"labelFontSize":19},
"axisY":{"labelPadding":6}
}
}
